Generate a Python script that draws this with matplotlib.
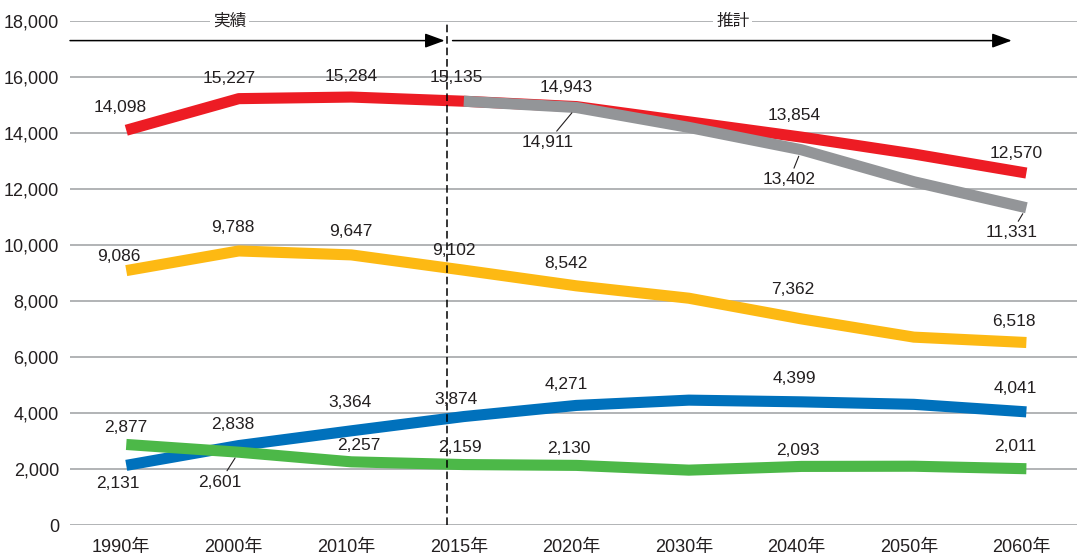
import numpy as np
import matplotlib.pyplot as plt
import matplotlib.transforms as mtransforms
from matplotlib.ticker import StrMethodFormatter

plt.rcParams['font.family'] = ['Liberation Sans', 'Noto Sans CJK JP']

years = ['1990年', '2000年', '2010年', '2015年', '2020年', '2030年', '2040年', '2050年', '2060年']

red_vals = [14098, 15227, 15284, 15135, 14943, 14400, 13854, 13250, 12570]
gray_vals = [np.nan, np.nan, np.nan, 15135, 14911, 14200, 13402, 12260, 11331]
yellow_vals = [9086, 9788, 9647, 9102, 8542, 8100, 7362, 6710, 6518]
blue_vals = [2131, 2838, 3364, 3874, 4271, 4460, 4399, 4310, 4041]
green_vals = [2877, 2601, 2257, 2159, 2130, 1960, 2093, 2100, 2011]

# which points get a value label
labelled = [0, 1, 2, 3, 4, 6, 8]

text_col = '#231f20'

fig = plt.figure(figsize=(10.77, 5.54), dpi=100)
ax = fig.add_axes([0.065, 0.0523, 0.935, 0.9098])

x = np.arange(len(years))
lw = 8

ax.plot(x, red_vals, color='#ed1c24', lw=lw, solid_capstyle='butt', solid_joinstyle='round', zorder=3)
ax.plot(x, gray_vals, color='#939598', lw=lw, solid_capstyle='butt', solid_joinstyle='round', zorder=4)
ax.plot(x, yellow_vals, color='#fdb913', lw=lw, solid_capstyle='butt', solid_joinstyle='round', zorder=3)
ax.plot(x, blue_vals, color='#0071bc', lw=lw, solid_capstyle='butt', solid_joinstyle='round', zorder=3)
ax.plot(x, green_vals, color='#4cb848', lw=lw, solid_capstyle='butt', solid_joinstyle='round', zorder=4)

# label offsets in pixels (dx, dy); leader lines where given
series_labels = [
    (red_vals, [(-6, 23), (-10, 20), (0, 21), (-7, 24), (-10, 19), None, (-7, 22), None, (-10, 20)], []),
    (gray_vals, [None, None, None, None, (-29, -35), None, (-12, -30), None, (-15, -25)], [4, 6, 8]),
    (yellow_vals, [(-7, 14), (-6, 23), (0, 23), (-10, 20), (-10, 22), None, (-9, 29), None, (-12, 21)], []),
    (blue_vals, [(-8, -18), (-6, 21), (-1, 28), (-8, 17), (-10, 21), None, (-7, 23), None, (-11, 23)], []),
    (green_vals, [(-1, 17), (-19, -30), (8, 16), (-4, 17), (-8, 17), None, (-4, 16), None, (-11, 22)], [1]),
]

for vals, offs, leaders in series_labels:
    for i in labelled:
        if offs[i] is None or np.isnan(vals[i]):
            continue
        if vals is gray_vals and i == 3:
            continue
        kw = {}
        if i in leaders:
            kw['arrowprops'] = dict(arrowstyle='-', color=text_col, lw=0.8, shrinkA=1, shrinkB=5)
        ax.annotate(f'{vals[i]:,}', xy=(i, vals[i]), xytext=offs[i], textcoords='offset pixels',
                    ha='center', va='center', fontsize=12.5, color=text_col, zorder=6, **kw)

ax.set_xlim(-0.5, 8.45)
ax.set_ylim(0, 18000)
ax.set_yticks(np.arange(0, 18001, 2000))
ax.yaxis.set_major_formatter(StrMethodFormatter('{x:,.0f}'))
ax.set_xticks(x)
ax.set_xticklabels(years, family=['Liberation Sans Narrow', 'Liberation Sans', 'Noto Sans CJK JP'])
ax.tick_params(axis='y', length=0, pad=8, labelsize=13, labelcolor=text_col)
ax.tick_params(axis='x', length=0, pad=10, labelsize=13, labelcolor=text_col)
shift = mtransforms.ScaledTranslation(-5 / 100, 0, fig.dpi_scale_trans)
for lab in ax.get_xticklabels():
    lab.set_transform(lab.get_transform() + shift)

ax.grid(axis='y', color='#9d9fa2', lw=1.1, zorder=0)
ax.set_axisbelow(True)
for s in ax.spines.values():
    s.set_visible(False)

# boundary between actual and projected values
ax.plot([2.85, 2.85], [0, 18000], color='black', lw=1.1, linestyle=(0, (5, 2.5)), zorder=5)

arrow_kw = dict(arrowstyle='-|>,head_length=0.6,head_width=0.22', color='black', lw=1.1,
                mutation_scale=20, shrinkA=0, shrinkB=0)
ax.annotate('', xy=(2.83, 17300), xytext=(-0.5, 17300), arrowprops=arrow_kw, zorder=5)
ax.annotate('', xy=(7.87, 17300), xytext=(2.9, 17300), arrowprops=arrow_kw, zorder=5)

bbox = dict(facecolor='white', edgecolor='none', pad=2)
ax.text(0.92, 18000, '実績', ha='center', va='center', fontsize=12, color=text_col,
        family=['Noto Sans CJK JP'], bbox=bbox, zorder=6)
ax.text(5.39, 18000, '推計', ha='center', va='center', fontsize=12, color=text_col,
        family=['Noto Sans CJK JP'], bbox=bbox, zorder=6)

fig.savefig('out.png', dpi=100)
